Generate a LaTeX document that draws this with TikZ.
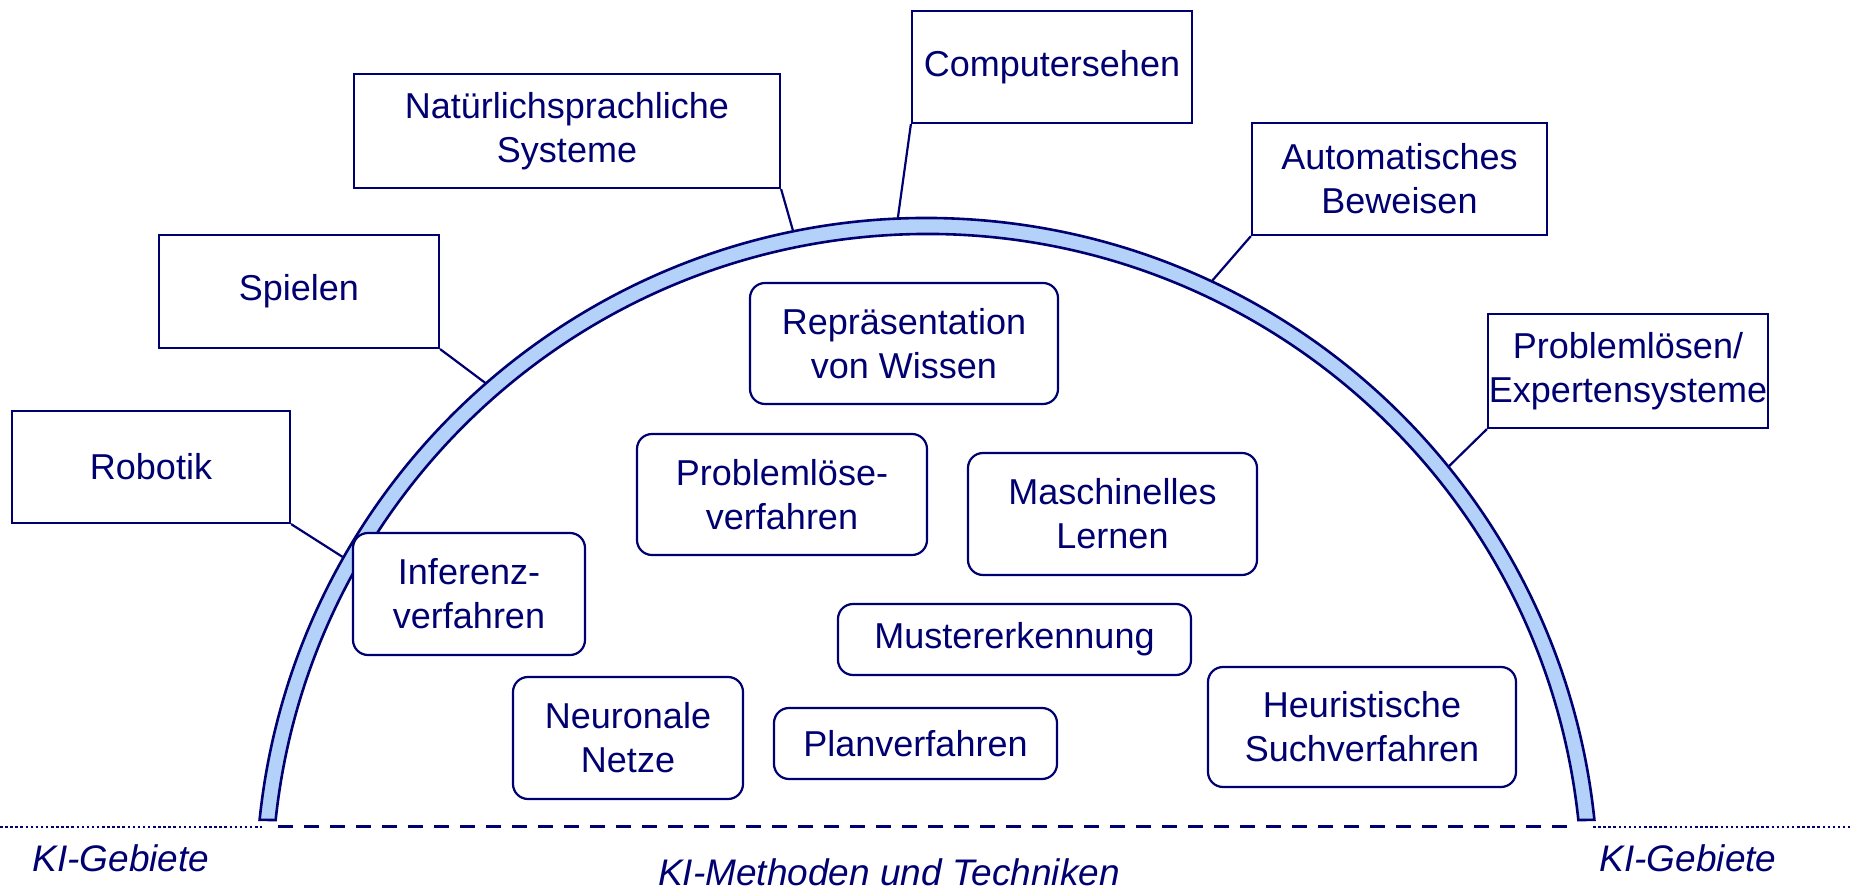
\documentclass[tikz,border=0pt]{standalone}
\usepackage{fontspec}
\setmainfont{Liberation Sans}
\usetikzlibrary{calc}
\definecolor{Navy}{HTML}{000070}
\definecolor{Band}{HTML}{B3D1F9}

\begin{document}
\begin{tikzpicture}[
    x=1pt,y=1pt,
    area/.style={draw=Navy,line width=2.2pt,fill=white,inner sep=0pt,
      align=center,text=Navy,font=\fontsize{36}{44}\selectfont},
    method/.style={area,rounded corners=15pt},
    link/.style={draw=Navy,line width=2.2pt},
    caption/.style={text=Navy,font=\fontsize{37}{44}\selectfont\itshape,anchor=base}
  ]
  \useasboundingbox (0,0) rectangle (1850,891);
  \coordinate (ctr) at (927,2);

  % the arch
  \filldraw[fill=Band,draw=Navy,line width=2.6pt]
    ($(ctr)+(174.08:671)$) arc[start angle=174.08,end angle=5.92,radius=671]
    -- ($(ctr)+(6.04:655)$) arc[start angle=6.04,end angle=173.96,radius=655] -- cycle;

  % ground line
  \coordinate (l0) at (0,64);
  \coordinate (l1) at (262,64);
  \coordinate (m0) at (278,64);
  \coordinate (m1) at (1578,64);
  \coordinate (r0) at (1593,64);
  \coordinate (r1) at (1850,64);
  \draw[Navy,line width=2.5pt,dash pattern=on 2.5pt off 2.6pt] (l0) -- (l1);
  \draw[Navy,line width=3pt,dash pattern=on 15pt off 11pt] (m0) -- (m1);
  \draw[Navy,line width=2.5pt,dash pattern=on 2.5pt off 2.6pt] (r0) -- (r1);

  % KI-Gebiete
  \node[area,minimum width=278,minimum height=112] (robotik) at (151,424) {Robotik};
  \node[area,minimum width=280,minimum height=113] (spielen) at (299,599.5) {Spielen};
  \node[area,minimum width=426,minimum height=114] (sprache) at (567,760)
    {Natürlichsprachliche\\Systeme};
  \node[area,minimum width=280,minimum height=112] (sehen) at (1052,824) {Computersehen};
  \node[area,minimum width=295,minimum height=112] (beweisen) at (1399.5,712)
    {Automatisches\\Beweisen};
  \node[area,minimum width=280,minimum height=114] (experten) at (1628,520)
    {Problemlösen/\\Expertensysteme};

  % touch points on the arch
  \coordinate (robotik-end) at ($(ctr)+(150.4:671)$);
  \coordinate (spielen-end) at ($(ctr)+(131.1:671)$);
  \coordinate (sprache-end) at ($(ctr)+(101.5:671)$);
  \coordinate (sehen-end) at ($(ctr)+(92.5:671)$);
  \coordinate (beweisen-end) at ($(ctr)+(64.9:671)$);
  \coordinate (experten-end) at ($(ctr)+(39.0:671)$);

  \draw[link] (robotik.south east) -- (robotik-end);
  \draw[link] (spielen.south east) -- (spielen-end);
  \draw[link] (sprache.south east) -- (sprache-end);
  \draw[link] (sehen.south west) -- (sehen-end);
  \draw[link] (beweisen.south west) -- (beweisen-end);
  \draw[link] (experten.south west) -- (experten-end);

  % KI-Methoden
  \node[method,minimum width=308,minimum height=121] (wissen) at (904,547.5)
    {Repräsentation\\von Wissen};
  \node[method,minimum width=290,minimum height=121] (loesen) at (782,396.5)
    {Problemlöse-\\verfahren};
  \node[method,minimum width=289,minimum height=122] (lernen) at (1112.5,377)
    {Maschinelles\\Lernen};
  \node[method,minimum width=232,minimum height=122] (inferenz) at (469,297)
    {Inferenz-\\verfahren};
  \node[method,minimum width=353,minimum height=71] (muster) at (1014.5,251.5)
    {Mustererkennung};
  \node[method,minimum width=230,minimum height=122] (netze) at (628,153)
    {Neuronale\\Netze};
  \node[method,minimum width=283,minimum height=71] (plan) at (915.5,147.5)
    {Planverfahren};
  \node[method,minimum width=308,minimum height=120] (suche) at (1362,164)
    {Heuristische\\Suchverfahren};

  % captions
  \node[caption] (gebiete-l) at (121,19) {KI-Gebiete};
  \node[caption] (gebiete-r) at (1688,19) {KI-Gebiete};
  \node[caption] (methoden) at (889,5) {KI-Methoden und Techniken};
\end{tikzpicture}
\end{document}
